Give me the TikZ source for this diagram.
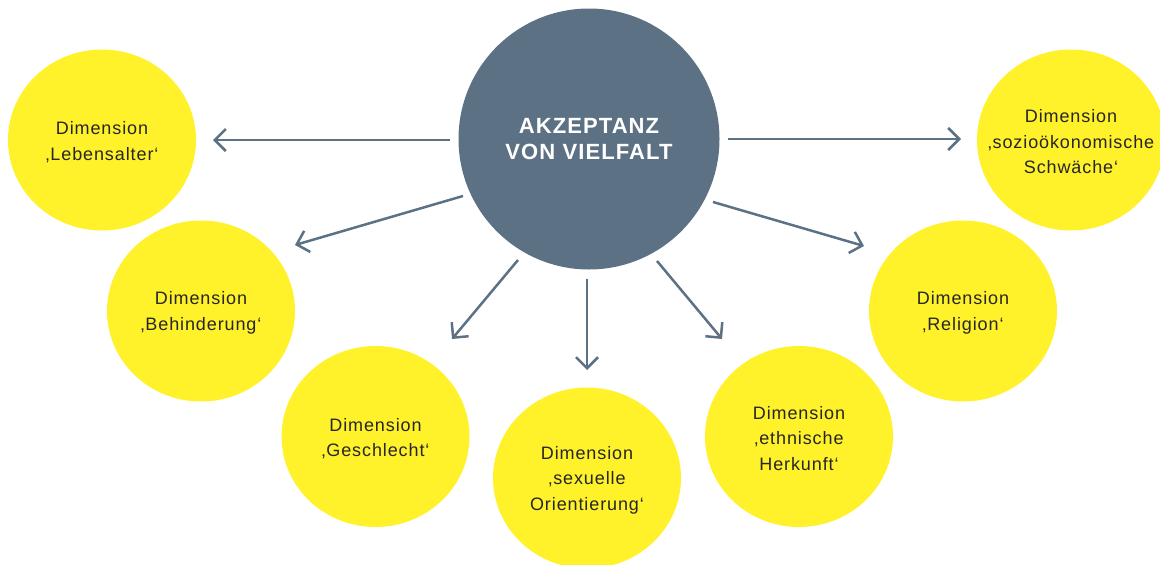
\documentclass[tikz,border=0pt]{standalone}
\usepackage{fontspec}
\setmainfont{Liberation Sans}[LetterSpace=5]
\usetikzlibrary{shapes.geometric,arrows.meta}
\definecolor{slate}{HTML}{5D7185}
\definecolor{sun}{HTML}{FFF12A}
\definecolor{ink}{HTML}{262626}
\tikzset{
  hub/.style={circle,fill=slate,draw=none,minimum size=261pt,inner sep=0pt,align=center,
    text=white,font=\fontsize{22}{26}\selectfont\bfseries},
  dim/.style={ellipse,fill=sun,draw=none,minimum width=188pt,minimum height=181pt,inner sep=0pt},
  dimtext/.style={align=center,text=ink,inner sep=0pt,font=\fontsize{18}{25.5}\selectfont},
  link/.style={draw=slate,line width=2.5pt,-{Straight Barb[length=11pt,width=22pt]}}
}
\begin{document}
\begin{tikzpicture}[x=1pt,y=-1pt]
\useasboundingbox (0,0) rectangle (1160,565);
\node[hub] (c) at (589,139) {AKZEPTANZ\\VON VIELFALT};
\node[dim] (d1) at (102,140) {};
\node[dim] (d2) at (201,311) {};
\node[dim] (d3) at (375.5,436.5) {};
\node[dim] (d4) at (587,478) {};
\node[dim] (d5) at (799,436.5) {};
\node[dim] (d6) at (963,311) {};
\node[dim] (d7) at (1071,140) {};
\node[dimtext] (t1) at ([yshift=-2pt]d1.center) {Dimension\\‚Lebensalter‘};
\node[dimtext] (t2) at ([yshift=-2pt]d2.center) {Dimension\\‚Behinderung‘};
\node[dimtext] (t3) at ([yshift=-2pt]d3.center) {Dimension\\‚Geschlecht‘};
\node[dimtext] (t4) at ([yshift=-2pt]d4.center) {Dimension\\‚sexuelle\\Orientierung‘};
\node[dimtext] (t5) at ([yshift=-2pt]d5.center) {Dimension\\‚ethnische\\Herkunft‘};
\node[dimtext] (t6) at ([yshift=-2pt]d6.center) {Dimension\\‚Religion‘};
\node[dimtext] (t7) at ([yshift=-2pt]d7.center) {Dimension\\‚sozioökonomische\\Schwäche‘};
% arrow end points
\coordinate (s1) at (450,140); \coordinate (e1) at (213,140);
\coordinate (s2) at (463,196); \coordinate (e2) at (295,245);
\coordinate (s3) at (518,260); \coordinate (e3) at (452,339);
\coordinate (s4) at (587,279); \coordinate (e4) at (587,370);
\coordinate (s5) at (657,261); \coordinate (e5) at (722,339);
\coordinate (s6) at (713,202); \coordinate (e6) at (864,246);
\coordinate (s7) at (728,139); \coordinate (e7) at (961,139);
\foreach \i in {1,...,7} {\draw[link] (s\i) -- (e\i);}
\end{tikzpicture}
\end{document}
